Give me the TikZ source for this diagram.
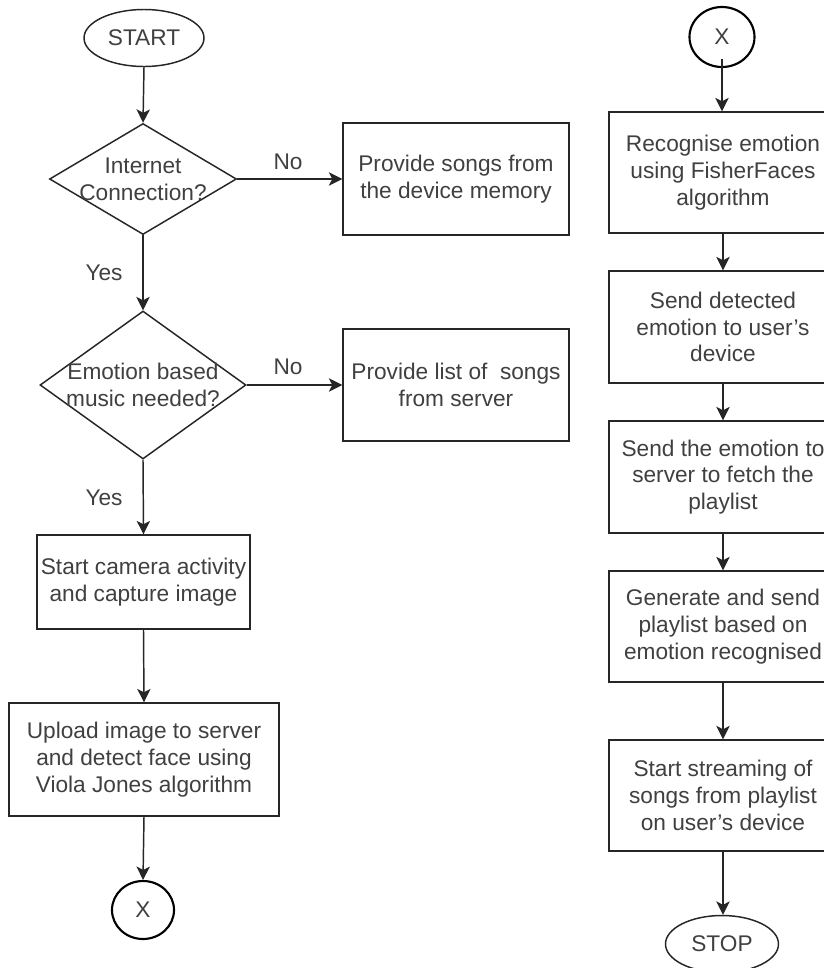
\documentclass[tikz,border=0pt]{standalone}
\usepackage{fontspec}
\setmainfont{Liberation Sans}
\usetikzlibrary{shapes.geometric,arrows.meta}
\begin{document}
\begin{tikzpicture}[x=0.75pt,y=-0.75pt,
  txt/.style={text=black!75,font=\fontsize{17pt}{20pt}\selectfont,align=center,inner sep=0pt},
  boxnode/.style={draw=black!85,line width=1.1pt,rectangle,txt},
  decnode/.style={draw=black!85,line width=1.1pt,diamond,inner sep=0pt},
  termnode/.style={draw=black!85,line width=1.1pt,ellipse,txt},
  connnode/.style={draw=black,line width=1.6pt,ellipse,txt},
  lbl/.style={txt},
  arr/.style={draw=black!85,line width=1.1pt,-{Stealth[length=10pt,width=10pt,inset=2.5pt]}}]
\path[use as bounding box] (0,0) rectangle (824,968);
\clip (0,0) rectangle (824,968);
\fill[white] (0,0) rectangle (824,968);
% left column
\node[termnode,minimum width=90pt,minimum height=42.75pt] (start) at (144,38) {START};
\node[decnode,minimum width=140.25pt,minimum height=83.25pt] (d1) at (143,179) {};
\node[txt] (d1t) at (143,179) {Internet\\Connection?};
\node[boxnode,minimum width=169.5pt,minimum height=84pt] (pa) at (456,179) {Provide songs from\\the device memory};
\node[decnode,minimum width=154.5pt,minimum height=111pt] (d2) at (143,385) {};
\node[txt] (d2t) at (143,385) {Emotion based\\music needed?};
\node[boxnode,minimum width=169.5pt,minimum height=84pt] (pb) at (456,385) {Provide list of\ \ songs\\from server};
\node[boxnode,minimum width=159.75pt,minimum height=70.5pt] (cam) at (143.5,582) {Start camera activity\\and capture image};
\node[boxnode,minimum width=202.5pt,minimum height=84.75pt] (up) at (144,759.5) {Upload image to server\\and detect face using\\Viola Jones algorithm};
\node[connnode,minimum width=46.5pt,minimum height=43.5pt] (x1) at (143,910) {X};
% labels
\node[lbl] (no1) at (288,162) {No};
\node[lbl] (no2) at (288,367) {No};
\node[lbl] (yes1) at (104,273) {Yes};
\node[lbl] (yes2) at (104,498) {Yes};
% right column
\node[connnode,minimum width=48.75pt,minimum height=45pt] (x2) at (722,37) {X};
\node[boxnode,minimum width=171pt,minimum height=90.75pt] (r1) at (723,172.5) {Recognise emotion\\using FisherFaces\\algorithm};
\node[boxnode,minimum width=171pt,minimum height=84pt] (r2) at (723,327) {Send detected\\emotion to user's\\device};
\node[boxnode,minimum width=171pt,minimum height=84pt] (r3) at (723,477) {Send the emotion to\\server to fetch the\\playlist};
\node[boxnode,minimum width=171pt,minimum height=83.25pt] (r4) at (723,626.5) {Generate and send\\playlist based on\\emotion recognised};
\node[boxnode,minimum width=171pt,minimum height=83.25pt] (r5) at (723,795.5) {Start streaming of\\songs from playlist\\on user's device};
\node[termnode,minimum width=84.75pt,minimum height=42.75pt] (stop) at (722,944) {STOP};
% connectors
\draw[arr] (start.south) -- (d1.north);
\draw[arr] (d1.east) -- (pa.west);
\draw[arr] (d1.south) -- (d2.north);
\draw[arr] (d2.east) -- (pb.west);
\draw[arr] (d2.south) -- (cam.north);
\draw[arr] (cam.south) -- (up.north);
\draw[arr] (up.south) -- (x1.north);
\draw[arr,shorten <=-7pt] (x2.south) -- (x2.south |- r1.north);
\draw[arr] (r1.south) -- (r2.north);
\draw[arr] (r2.south) -- (r3.north);
\draw[arr] (r3.south) -- (r4.north);
\draw[arr] (r4.south) -- (r5.north);
\draw[arr] (r5.south) -- (r5.south |- stop.north);
\end{tikzpicture}
\end{document}
